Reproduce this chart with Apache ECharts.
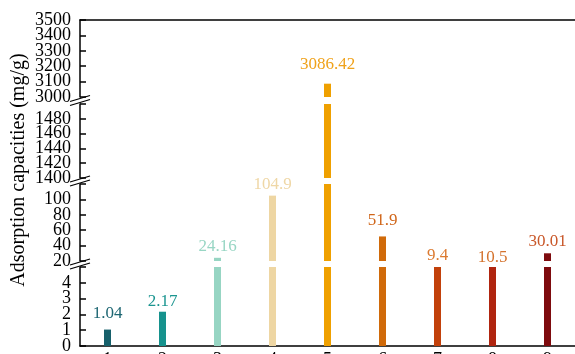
<!DOCTYPE html>
<html>
<head>
<meta charset="utf-8">
<script src="https://cdn.jsdelivr.net/npm/echarts@6/dist/echarts.min.js"></script>
<style>
  html, body { margin: 0; padding: 0; background: #fff; }
  #chart { width: 575px; height: 354px; }
</style>
</head>
<body>
<div id="chart"></div>
<script>
// 数据
var categories = ['1', '2', '3', '4', '5', '6', '7', '8', '9'];
var values = [1.04, 2.17, 24.16, 104.9, 3086.42, 51.9, 9.4, 10.5, 30.01];

// 断轴的各段范围 (从下往上)
var segMin = [0, 20, 1400, 3000];
var segMax = [5, 120, 1500, 3500];
var segStep = [1, 20, 20, 100];

// 颜色
var barColors = ['#17606b', '#16928d', '#97d5c3', '#eed6a3', '#efa000', '#d06a0a', '#c2410b', '#b0250f', '#7e0b0e'];
var labelColors = ['#1d6672', '#1b9590', '#98d6c4', '#efd7a6', '#f0a21a', '#d0661a', '#dc7a30', '#d4732e', '#c9582a'];
var labelGap = [8, 2, 3, 3, 11, 7, 3, 1, 3];

// 每段在画布上的像素位置 [top, bottom]
var segBox = [[267, 346], [184, 261], [104, 178], [20, 97]];
var axisX = 80;
var FONT = 'Liberation Serif';

var myChart = echarts.init(document.getElementById('chart'));

// 标签放在柱顶所在(或刚好低于)的那一段
function labelSeg(v) {
    var k = 0;
    for (var s = 0; s < segMin.length; s++) {
        if (v >= segMin[s]) k = s;
    }
    return k;
}

// 刻度标签太密会被自动隐藏, 所以奇偶刻度分到两根重合的y轴上
function tickValues(k, parity) {
    var out = [];
    var n = Math.round((segMax[k] - segMin[k]) / segStep[k]);
    var last = k === 3 ? n : n - 1;   // 只有最上面一段显示最大值
    for (var j = 0; j <= last; j++) {
        if (j % 2 === parity) out.push(segMin[k] + j * segStep[k]);
    }
    return out;
}

var grids = [], xAxes = [], yAxes = [], series = [];
for (var k = 0; k < 4; k++) {
    grids.push({
        left: axisX,
        right: 0,
        top: segBox[k][0],
        height: segBox[k][1] - segBox[k][0],
        containLabel: false,
        outerBoundsMode: 'none'
    });
    xAxes.push({
        type: 'category',
        gridIndex: k,
        data: categories,
        position: k === 3 ? 'top' : 'bottom',
        axisLine: { show: k === 0 || k === 3, lineStyle: { color: '#000', width: 1.5 } },
        axisTick: { show: false },
        axisLabel: {
            show: k === 0,
            color: '#000',
            fontFamily: FONT,
            fontSize: 18,
            margin: 5
        }
    });
    [0, 1].forEach(function (p) {
        yAxes.push({
            type: 'value',
            gridIndex: k,
            position: 'left',
            min: segMin[k],
            max: segMax[k],
            interval: segStep[k],
            axisLine: { show: p === 0, lineStyle: { color: '#000', width: 1.5 } },
            axisTick: { show: p === 0, inside: true, length: 6, lineStyle: { color: '#000', width: 1.5 } },
            axisLabel: {
                color: '#000',
                fontFamily: FONT,
                fontSize: 18,
                margin: 9,
                customValues: tickValues(k, p),
                formatter: function (v) { return String(v); }
            },
            splitLine: { show: false }
        });
    });
    series.push({
        type: 'bar',
        xAxisIndex: k,
        yAxisIndex: 2 * k,
        barWidth: 7,
        clip: true,
        animation: false,
        data: values.map(function (v, i) {
            return {
                value: v,
                itemStyle: { color: barColors[i] },
                label: {
                    show: labelSeg(v) === k,
                    position: 'top',
                    distance: labelGap[i],
                    color: labelColors[i],
                    fontFamily: FONT,
                    fontSize: 17,
                    formatter: String(v)
                }
            };
        })
    });
}

// 断点处的双斜线
var graphics = [];
for (var g = 0; g < 3; g++) {
    var mid = (segBox[g][0] + segBox[g + 1][1]) / 2;
    [-2, 2].forEach(function (d) {
        graphics.push({
            type: 'line',
            shape: { x1: axisX - 10, y1: mid + d + 3, x2: axisX + 10, y2: mid + d - 3 },
            style: { stroke: '#000', lineWidth: 1.3 },
            z: 10
        });
    });
}
// y轴标题
graphics.push({
    type: 'text',
    x: 19,
    y: 170,
    rotation: Math.PI / 2,
    style: {
        text: 'Adsorption capacities (mg/g)',
        font: '20px "Liberation Serif"',
        fill: '#000',
        textAlign: 'center',
        textVerticalAlign: 'middle'
    }
});

var option = {
    animation: false,
    grid: grids,
    xAxis: xAxes,
    yAxis: yAxes,
    series: series,
    graphic: graphics
};
myChart.setOption(option);
</script>
</body>
</html>
